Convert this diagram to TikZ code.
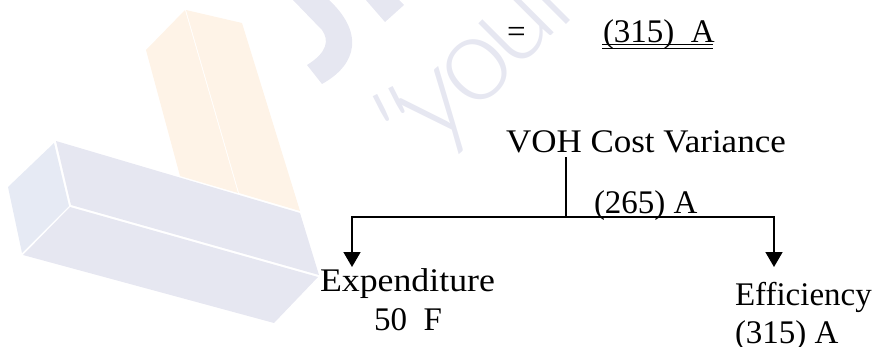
\documentclass[tikz,border=0pt]{standalone}
\usepackage{fontspec}
\setmainfont{Liberation Serif}
\newfontfamily\wmfont{Lato Light}
\usetikzlibrary{arrows.meta}
\definecolor{wmblue}{HTML}{E6E7F1}
\definecolor{wmside}{HTML}{E6EAF4}
\definecolor{wmorange}{HTML}{FEF3E7}
\tikzset{
  lbl/.style={anchor=base west,inner sep=0pt,outer sep=0pt,font=\fontsize{33}{36}\selectfont},
  link/.style={line width=1.6pt,line cap=rect},
  linkarrow/.style={line width=1.6pt,-{Triangle[length=15pt,width=17pt]}},
  wm/.style={inner sep=0pt,outer sep=0pt,text=wmblue,font=\wmfont\fontsize{120}{120}\selectfont},
}
\begin{document}
\begin{tikzpicture}[x=1pt,y=-1pt]
\useasboundingbox (0,0) rectangle (872,346);
% watermark
\begin{scope}
\clip (0,0) rectangle (872,346);
\fill[wmorange] (146,50) -- (185,10) -- (238,193) -- (180,176) -- cycle;
\fill[wmorange] (186,10) -- (242,23) -- (300,211) -- (239,193) -- cycle;
\fill[wmside] (54,143) -- (69,206) -- (22,253) -- (8,187) -- cycle;
\fill[wmblue] (56,141) -- (300,213) -- (319,275) -- (71,205) -- cycle;
\fill[wmblue] (70,207) -- (318,277) -- (274,323) -- (23,255) -- cycle;
\fill[wmblue] (292,-1) -- (322,30) .. controls (329,40) and (328,52) .. (307,65) -- (322,84) .. controls (358,64) and (364,32) .. (328,-1) -- cycle;
\fill[wmblue] (365,-1) -- (385,22) -- (404,5) -- (398,-1) -- cycle;
\node[wm,rotate=27,anchor=north] (wmq) at (383,92) {"};
\node[wm,rotate=40] (wmy) at (443,115) {y};
\node[wm,rotate=45] (wmo) at (477,70) {o};
\node[wm,rotate=45] (wmu) at (517,28) {u};
\node[wm,rotate=45] (wmr) at (553,-5) {r};
\end{scope}
% labels
\node[lbl] (eq) at (507,42) {=};
\node[lbl] (total) at (603,42) {(315)\ \ A};
\node[lbl] (voh) at (506,152) {\scalebox{1.06}[1]{VOH Cost Variance}};
\node[lbl] (amount) at (594,213) {(265) A};
\node[lbl] (exp) at (320,291) {\scalebox{1.085}[1]{Expenditure}};
\node[lbl] (expval) at (374,330) {50\ \ F};
\node[lbl] (eff) at (735,305) {Efficiency};
\node[lbl] (effval) at (735,343) {(315) A};
% double underline
\coordinate (ua) at (602,44.5);
\coordinate (ub) at (713,44.5);
\coordinate (uc) at (602,48.5);
\coordinate (ud) at (713,48.5);
\draw[line width=0.9pt] (ua) -- (ub);
\draw[line width=0.9pt] (uc) -- (ud);
% connectors
\coordinate (trunk) at (566,158);
\coordinate (joint) at (566,217);
\coordinate (busl) at (352,217);
\coordinate (busr) at (774,217);
\coordinate (tipl) at (352,267);
\coordinate (tipr) at (774,267);
\draw[link] (trunk) -- (joint);
\draw[link] (busl) -- (busr);
\draw[linkarrow] (busl) -- (tipl);
\draw[linkarrow] (busr) -- (tipr);
\end{tikzpicture}
\end{document}
